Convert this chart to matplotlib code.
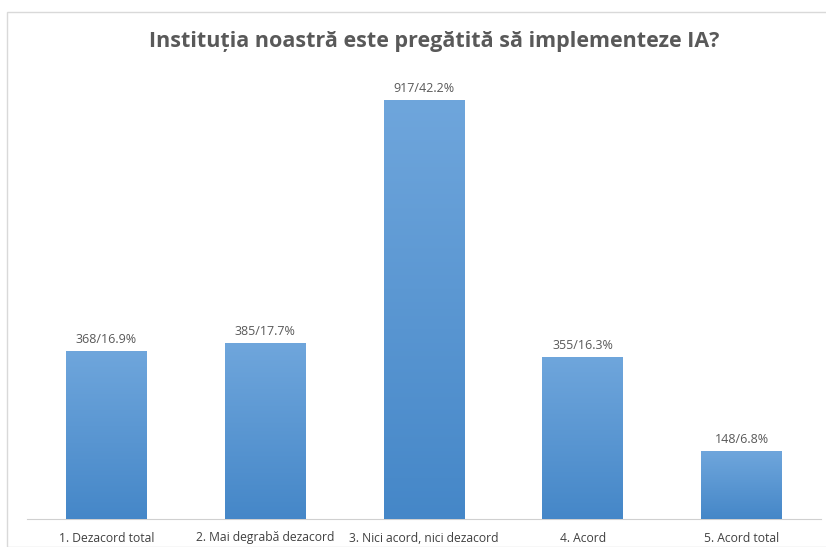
import numpy as np
import matplotlib
matplotlib.use("Agg")
import matplotlib.pyplot as plt
from matplotlib.patches import Rectangle

categories = ['1. Dezacord total', '2. Mai degrabă dezacord', '3. Nici acord, nici dezacord',
              '4. Acord', '5. Acord total']
counts = [368, 385, 917, 355, 148]
percents = [16.9, 17.7, 42.2, 16.3, 6.8]
title = 'Instituția noastră este pregătită să implementeze IA?'

plt.rcParams['font.family'] = ['Open Sans', 'DejaVu Sans']

fig = plt.figure(figsize=(8.26, 5.47), dpi=100)
fig.patches.append(Rectangle((7 / 826, 0.0), 1.0, 1 - 12 / 547, transform=fig.transFigure,
                             fill=False, edgecolor='#d9d9d9', linewidth=1.0))

ax = fig.add_axes([27 / 826, 1 - 519 / 547, 794 / 826, (519 - 62) / 547])
x = np.arange(len(categories))
width = 0.51
bars = ax.bar(x, counts, width=width, color='#5b9bd5', zorder=2)

# vertical gradient, lighter at top
grad = np.linspace(0, 1, 256).reshape(-1, 1)
cmap = matplotlib.colors.LinearSegmentedColormap.from_list('g', ['#4587c8', '#6fa6dc'])
for b in bars:
    x0, y0 = b.get_x(), b.get_y()
    w, h = b.get_width(), b.get_height()
    im = ax.imshow(grad, extent=[x0, x0 + w, y0, y0 + h], origin='lower', cmap=cmap,
                   aspect='auto', zorder=3)
    im.set_clip_path(b)

for xi, c, p in zip(x, counts, percents):
    ax.text(xi, c + 11, f'{c}/{p}%', ha='center', va='bottom', fontsize=9, color='#595959')

ax.set_xlim(-0.5, len(categories) - 0.5)
ax.set_ylim(0, 1000)
ax.set_xticks(x)
ax.set_xticklabels(categories, fontsize=8.7, color='#404040')
ax.tick_params(axis='x', length=0, pad=9)
ax.set_yticks([])
for s in ['top', 'right', 'left']:
    ax.spines[s].set_visible(False)
ax.spines['bottom'].set_color('#d0d0d0')

fig.text(434 / 826, 1 - 42 / 547, title, ha='center', va='center', fontsize=15.5,
         fontweight='bold', color='#595959')

fig.savefig('out.png', dpi=100)
